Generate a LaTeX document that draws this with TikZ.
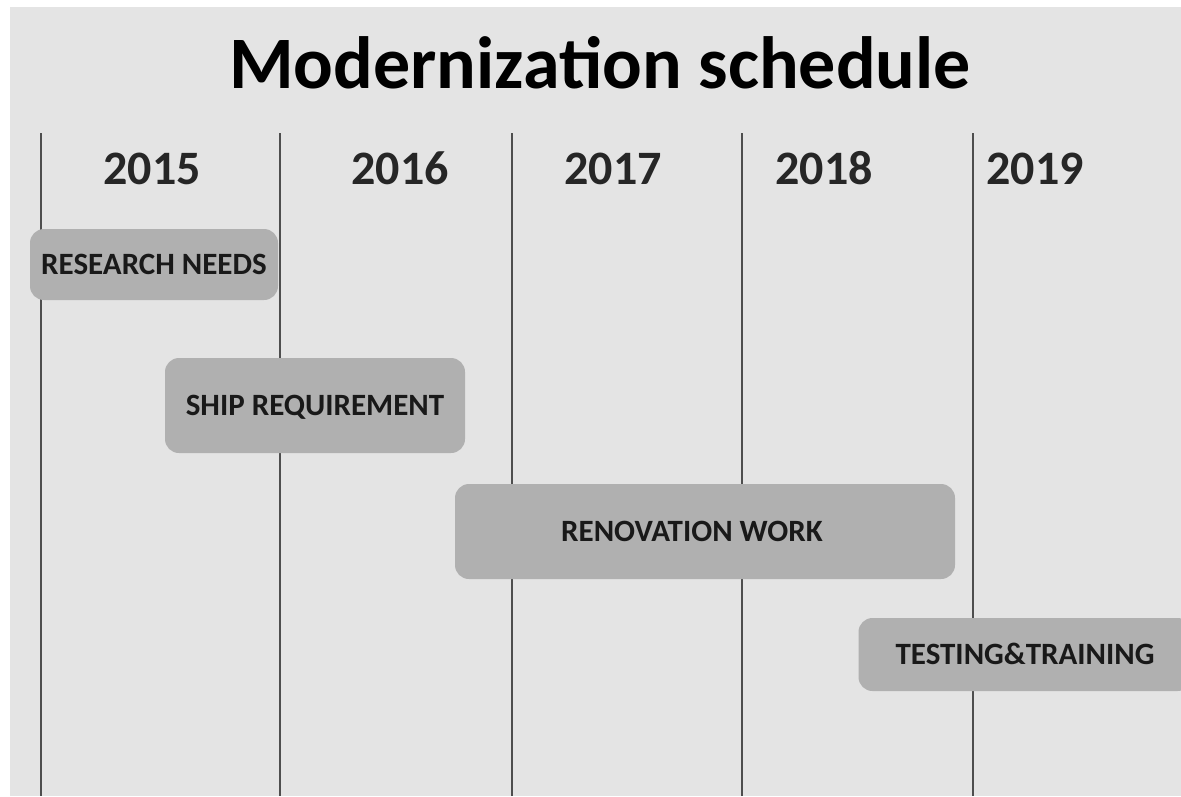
\documentclass[tikz,border=0pt]{standalone}
\usepackage{fontspec}
\setmainfont{Carlito}
\usepackage{tikz}
\usetikzlibrary{calc}
\usetikzlibrary{positioning}
\definecolor{panelgray}{HTML}{E4E4E4}
\definecolor{bargray}{HTML}{B0B0B0}
\definecolor{linegray}{HTML}{4E4E4E}
\definecolor{yeargray}{HTML}{262626}
\tikzstyle{titlenode} = [font=\fontsize{74}{82}\selectfont\bfseries, anchor=base, inner sep=0]
\tikzstyle{yearnode} = [font=\fontsize{48}{54}\selectfont\bfseries, text=yeargray, anchor=base, inner sep=0]
\tikzstyle{barnode} = [fill=bargray, rounded corners=14pt, inner sep=0, text height=20pt, text depth=0pt, font=\fontsize{31}{35}\selectfont\bfseries, text=black!90]
\tikzstyle{yearline} = [draw=linegray, line width=2.8pt]

\begin{document}
\begin{tikzpicture}[x=1pt, y=-1pt]
    \useasboundingbox (0,0) rectangle (1181,796);
    \clip (0,0) rectangle (1181,796);
    \fill[white] (0,0) rectangle (1181,796);
    \fill[panelgray] (10,7) rectangle (1181,796);

    % year separators
    \foreach \xpos in {41,280,512,742,973}
        \draw[yearline] (\xpos,133) -- (\xpos,796);

    \node[titlenode] (title) at (600,88) {Modernization schedule};

    \node[yearnode] (y2015) at (152,184) {2015};
    \node[yearnode] (y2016) at (400,184) {2016};
    \node[yearnode] (y2017) at (613,184) {2017};
    \node[yearnode] (y2018) at (824,184) {2018};
    \node[yearnode] (y2019) at (1035,184) {2019};

    \node[barnode, minimum width=248pt, minimum height=71pt] (research) at (154,264.5) {RESEARCH NEEDS};
    \node[barnode, minimum width=300pt, minimum height=95pt] (ship) at (315,405.5) {SHIP REQUIREMENT};
    \node[barnode, minimum width=500pt, minimum height=95pt] (renovation) at (705,531.5) {RENOVATION WORK\hspace*{26pt}};
    \node[barnode, minimum width=333pt, minimum height=73pt] (testing) at (1025,654.5) {TESTING\&TRAINING};
\end{tikzpicture}
\end{document}
